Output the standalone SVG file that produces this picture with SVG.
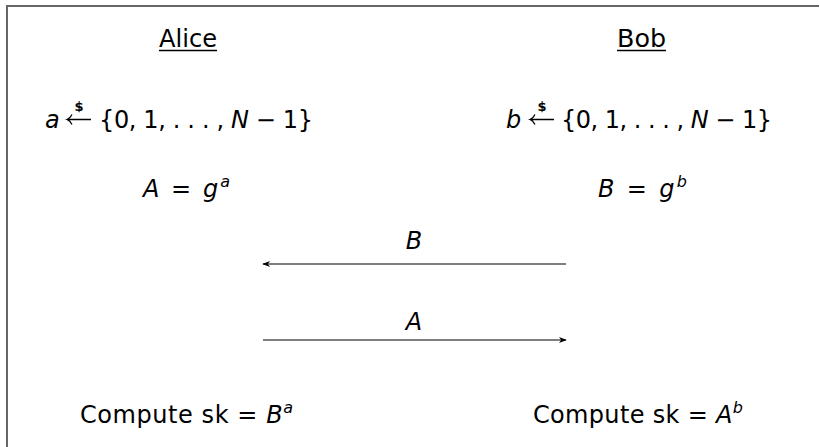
<svg xmlns="http://www.w3.org/2000/svg" width="820" height="447" viewBox="0 0 820 447">
<defs>
<style>
.t{font-family:"DejaVu Sans","Liberation Sans",sans-serif;font-size:24px;fill:#000}
.m{font-style:italic}
.sup{font-size:16px;font-style:italic}
.dol{font-family:"DejaVu Sans",sans-serif;font-size:13px;font-weight:bold}
.u{stroke:#000;stroke-width:1.3}
.c{stroke:#000;stroke-width:1.2;fill:none}
.sa{stroke:#000;stroke-width:1.3;fill:none}
</style>
<marker id="ah" viewBox="0 0 10 10" refX="9" refY="5" markerWidth="8" markerHeight="8" markerUnits="userSpaceOnUse" orient="auto">
<path d="M0,1 L10,5 L0,9 L3,5 Z" fill="#000"/>
</marker>
</defs>
<rect width="820" height="447" fill="#fff"/>
<path d="M7,460 V6 H819" stroke="#666" stroke-width="2" fill="none"/>
<g id="alice">
<text class="t" x="159" y="47" textLength="58" lengthAdjust="spacingAndGlyphs">Alice</text>
<line class="u" x1="159" y1="50.5" x2="217" y2="50.5"/>
<text class="t m" x="45" y="128">a</text>
<path class="sa" d="M91,119.5 H68 M72,114.5 Q70,118.5 67,119.5 Q70,120.5 72,124.5"/>
<text class="dol" x="79" y="111" text-anchor="middle">$</text>
<text class="t" x="99" y="128" textLength="214" lengthAdjust="spacing">{0, 1, . . . , <tspan class="m">N</tspan> − 1}</text>
<text class="t" x="143" y="197" textLength="87" lengthAdjust="spacing"><tspan class="m">A</tspan> = <tspan class="m">g</tspan><tspan class="sup" dy="-10">a</tspan></text>
<text class="t" x="80" y="423" textLength="213" lengthAdjust="spacing">Compute sk = <tspan class="m">B</tspan><tspan class="sup" dy="-10">a</tspan></text>
</g>
<g id="bob">
<text class="t" x="617" y="47" textLength="49" lengthAdjust="spacingAndGlyphs">Bob</text>
<line class="u" x1="617" y1="50.5" x2="666" y2="50.5"/>
<text class="t m" x="506" y="128">b</text>
<path class="sa" d="M554,119.5 H531 M535,114.5 Q533,118.5 530,119.5 Q533,120.5 535,124.5"/>
<text class="dol" x="542" y="111" text-anchor="middle">$</text>
<text class="t" x="561" y="128" textLength="211" lengthAdjust="spacing">{0, 1, . . . , <tspan class="m">N</tspan> − 1}</text>
<text class="t" x="598" y="197" textLength="89" lengthAdjust="spacing"><tspan class="m">B</tspan> = <tspan class="m">g</tspan><tspan class="sup" dy="-10">b</tspan></text>
<text class="t" x="533" y="423" textLength="210" lengthAdjust="spacing">Compute sk = <tspan class="m">A</tspan><tspan class="sup" dy="-10">b</tspan></text>
</g>
<g id="connectors">
<line class="c" x1="566" y1="264" x2="263" y2="264" marker-end="url(#ah)"/>
<text class="t m" x="414" y="249" text-anchor="middle">B</text>
<line class="c" x1="263" y1="340" x2="566" y2="340" marker-end="url(#ah)"/>
<text class="t m" x="414" y="330" text-anchor="middle">A</text>
</g>
</svg>
